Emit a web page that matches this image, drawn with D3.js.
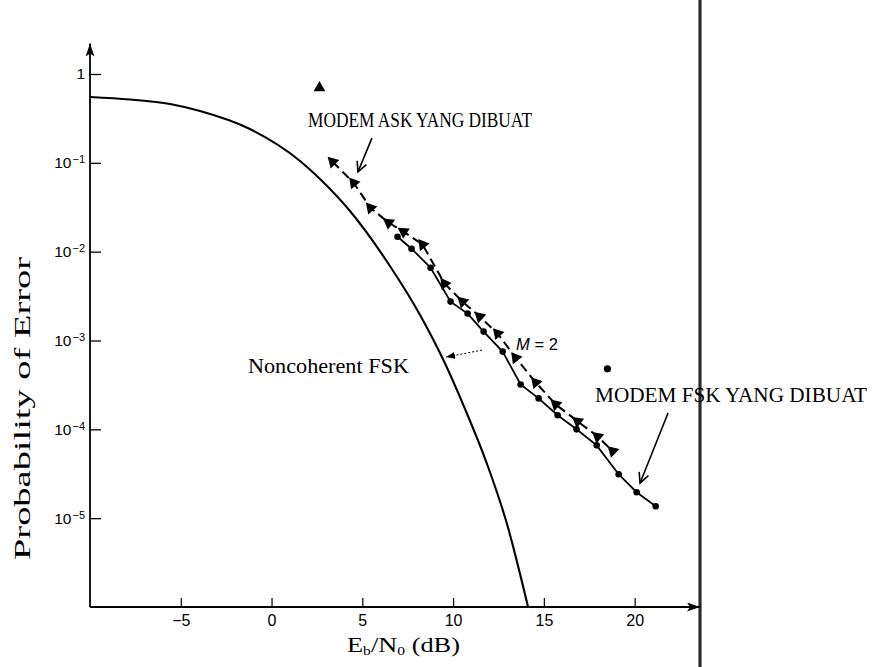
<!DOCTYPE html>
<html>
<head>
<meta charset="utf-8">
<script src="https://cdn.jsdelivr.net/npm/d3@7"></script>
<style>
  html, body { margin: 0; padding: 0; background: #fff; }
  svg { display: block; }
</style>
</head>
<body>
<svg id="chart" width="874" height="667"></svg>
<script>
// Theoretical noncoherent FSK (M = 2) bit error curve
const theoryEbN0 = [-10, -7.8, -5.59, -3.94, -1.19, 1.57, 2.67, 4.32, 6.52, 8.18, 9.44, 10.66, 11.87, 12.97, 14.13];
const theoryPe   = [0.551, 0.516, 0.459, 0.383, 0.240, 0.105, 0.0658, 0.0287, 6.9e-3, 1.94e-3, 6.19e-4, 1.69e-4, 4.07e-5, 8.59e-6, 1.0e-6];

// Measured ASK modem
const askEbN0 = [3.36, 4.52, 5.45, 6.45, 7.27, 8.32, 9.53, 10.52, 11.46, 12.45, 13.44, 14.55, 15.65, 16.86, 17.96, 18.79];
const askPe   = [0.103, 0.0596, 0.0312, 0.0212, 0.0168, 0.0120, 4.37e-3, 2.74e-3, 1.86e-3, 1.20e-3, 6.4e-4, 3.37e-4, 1.91e-4, 1.23e-4, 8.3e-5, 5.7e-5];

// Measured FSK modem
const fskEbN0 = [6.94, 7.71, 8.76, 9.86, 10.80, 11.68, 12.73, 13.72, 14.71, 15.76, 16.80, 17.91, 19.12, 20.11, 21.16];
const fskPe   = [0.0147, 0.0108, 6.6e-3, 2.74e-3, 2.01e-3, 1.26e-3, 7.5e-4, 3.2e-4, 2.23e-4, 1.44e-4, 1.0e-4, 6.6e-5, 3.12e-5, 1.96e-5, 1.36e-5];

// Axis ticks
const xTickValues = [-5, 0, 5, 10, 15, 20];
const yTickValues = [1, 1e-1, 1e-2, 1e-3, 1e-4, 1e-5];
const yTickExponents = [null, -1, -2, -3, -4, -5];

// Axis extents (arrows run slightly past the last tick)
const xDomain = [-10, 23.6];
const yDomain = [1e-6, 1];
const yArrowTop = 2.2;

const svg = d3.select("#chart");
const x = d3.scaleLinear().domain(xDomain).range([90, 700]);
const y = d3.scaleLog().domain(yDomain).range([607, 74]);

const serif = "'Liberation Serif', 'Times New Roman', Times, serif";
const sans = "'Liberation Sans', Arial, Helvetica, sans-serif";

// Arrowheads
const defs = svg.append("defs");
defs.append("marker")
  .attr("id", "axisArrow")
  .attr("markerUnits", "userSpaceOnUse")
  .attr("markerWidth", 14).attr("markerHeight", 10)
  .attr("refX", 13).attr("refY", 4.5)
  .attr("orient", "auto")
  .append("path").attr("d", "M0,0L13,4.5L0,9L3,4.5Z").attr("fill", "#000");
defs.append("marker")
  .attr("id", "openArrow")
  .attr("markerUnits", "userSpaceOnUse")
  .attr("markerWidth", 14).attr("markerHeight", 12)
  .attr("refX", 11).attr("refY", 6)
  .attr("orient", "auto")
  .append("path").attr("d", "M1,1L11,6L1,11").attr("fill", "none").attr("stroke", "#000").attr("stroke-width", 1.6);
defs.append("marker")
  .attr("id", "smallArrow")
  .attr("markerUnits", "userSpaceOnUse")
  .attr("markerWidth", 10).attr("markerHeight", 8)
  .attr("refX", 9).attr("refY", 3.5)
  .attr("orient", "auto")
  .append("path").attr("d", "M0,0L9,3.5L0,7Z").attr("fill", "#000");

// Page frame line on the right
svg.append("line")
  .attr("x1", x(xDomain[1])).attr("x2", x(xDomain[1]))
  .attr("y1", 0).attr("y2", 667)
  .attr("stroke", "#2a2a2a").attr("stroke-width", 3.2);

// Y axis
const gY = svg.append("g").attr("transform", `translate(${x(xDomain[0])},0)`);
gY.call(d3.axisLeft(y).tickValues(yTickValues).tickSizeInner(-11).tickSizeOuter(0).tickPadding(5).tickFormat(() => ""));
gY.select(".domain").remove();
gY.selectAll(".tick line").attr("stroke", "#000").attr("stroke-width", 1.3);
gY.selectAll(".tick text")
  .attr("font-family", sans).attr("font-size", 15.5).attr("fill", "#000")
  .each(function(d, i) {
    const t = d3.select(this);
    const e = yTickExponents[i];
    if (e === null) { t.text("1"); return; }
    t.text("10");
    t.append("tspan").attr("dx", 1).attr("dy", "-0.45em").attr("font-size", 11).text("\u2212" + Math.abs(e));
  });

// X axis
const gX = svg.append("g").attr("transform", `translate(0,${y(yDomain[0])})`);
gX.call(d3.axisBottom(x).tickValues(xTickValues).tickSizeInner(-9).tickSizeOuter(0).tickPadding(8));
gX.select(".domain").remove();
gX.selectAll(".tick line").attr("stroke", "#000").attr("stroke-width", 1.2);
gX.selectAll(".tick text").attr("font-family", sans).attr("font-size", 16).attr("fill", "#000");

// Axis lines with arrows
svg.append("line")
  .attr("x1", x(xDomain[0])).attr("y1", y(yDomain[0]))
  .attr("x2", x(xDomain[0])).attr("y2", y(yArrowTop))
  .attr("stroke", "#000").attr("stroke-width", 1.8)
  .attr("marker-end", "url(#axisArrow)");
svg.append("line")
  .attr("x1", x(xDomain[0])).attr("y1", y(yDomain[0]))
  .attr("x2", x(xDomain[1])).attr("y2", y(yDomain[0]))
  .attr("stroke", "#000").attr("stroke-width", 1.8)
  .attr("marker-end", "url(#axisArrow)");

// Axis titles
svg.append("text")
  .attr("transform", `translate(30,${(y(1e-6) + y(1)) / 2 + 68}) rotate(-90)`)
  .attr("text-anchor", "middle")
  .attr("font-family", serif).attr("font-size", 23)
  .attr("textLength", 303).attr("lengthAdjust", "spacingAndGlyphs")
  .text("Probability of Error");

const xTitle = svg.append("text")
  .attr("x", 347).attr("y", 652)
  .attr("font-family", serif).attr("font-size", 22)
  .attr("textLength", 113).attr("lengthAdjust", "spacingAndGlyphs");
xTitle.append("tspan").text("E");
xTitle.append("tspan").attr("font-size", 13).attr("dy", 3).text("b");
xTitle.append("tspan").attr("dy", -3).text("/N");
xTitle.append("tspan").attr("font-size", 13).attr("dy", 3).text("0");
xTitle.append("tspan").attr("dy", -3).text(" (dB)");

// Series geometry
const theory = theoryEbN0.map((v, i) => [v, theoryPe[i]]);
const ask = askEbN0.map((v, i) => [v, askPe[i]]);
const fsk = fskEbN0.map((v, i) => [v, fskPe[i]]);

const smooth = d3.line().x(d => x(d[0])).y(d => y(d[1])).curve(d3.curveMonotoneX);
const straight = d3.line().x(d => x(d[0])).y(d => y(d[1]));

svg.append("path")
  .datum(theory)
  .attr("d", smooth)
  .attr("fill", "none").attr("stroke", "#000").attr("stroke-width", 2.1);

svg.append("path")
  .datum(ask)
  .attr("d", straight)
  .attr("fill", "none").attr("stroke", "#000").attr("stroke-width", 2)
  .attr("stroke-dasharray", "9,5");

svg.append("path")
  .datum(fsk)
  .attr("d", straight)
  .attr("fill", "none").attr("stroke", "#000").attr("stroke-width", 1.8);

// ASK markers: triangles turned along the curve
const tri = d3.symbol().type(d3.symbolTriangle).size(64);
svg.append("g").selectAll("path")
  .data(ask)
  .join("path")
  .attr("d", tri)
  .attr("fill", "#000")
  .attr("transform", (d, i) => {
    const a = ask[Math.max(0, i - 1)], b = ask[Math.min(ask.length - 1, i + 1)];
    const ang = Math.atan2(y(b[1]) - y(a[1]), x(b[0]) - x(a[0])) * 180 / Math.PI;
    return `translate(${x(d[0])},${y(d[1])}) rotate(${ang - 90})`;
  });

// FSK markers
svg.append("g").selectAll("circle")
  .data(fsk)
  .join("circle")
  .attr("cx", d => x(d[0])).attr("cy", d => y(d[1]))
  .attr("r", 3.3).attr("fill", "#000");

// Legend symbols
const askKey = [2.64, 0.70];
const fskKey = [18.5, 4.8e-4];
svg.append("path")
  .attr("d", d3.symbol().type(d3.symbolTriangle).size(60)())
  .attr("transform", `translate(${x(askKey[0])},${y(askKey[1])})`)
  .attr("fill", "#000");
svg.append("circle")
  .attr("cx", x(fskKey[0])).attr("cy", y(fskKey[1]))
  .attr("r", 3.6).attr("fill", "#000");

// Annotations (positions in data units)
const labels = [
  { text: "MODEM ASK YANG DIBUAT", at: [2.01, 0.253], size: 20, len: 224, font: serif },
  { text: "MODEM FSK YANG DIBUAT", at: [17.82, 2.03e-4], size: 21, len: 272, font: serif },
  { text: "Noncoherent FSK", at: [-1.30, 4.3e-4], size: 22, len: 161, font: serif }
];
svg.append("g").selectAll("text")
  .data(labels)
  .join("text")
  .attr("x", d => x(d.at[0])).attr("y", d => y(d.at[1]))
  .attr("font-family", d => d.font).attr("font-size", d => d.size)
  .attr("textLength", d => d.len).attr("lengthAdjust", "spacingAndGlyphs")
  .text(d => d.text);

const mLabel = svg.append("text")
  .attr("x", x(13.47)).attr("y", y(7.8e-4))
  .attr("font-family", sans).attr("font-size", 16.5);
mLabel.append("tspan").attr("font-style", "italic").text("M");
mLabel.append("tspan").text(" = 2");

const arrows = [
  { from: [5.53, 0.19], to: [4.76, 0.079], marker: "openArrow", dash: null, w: 1.6 },
  { from: [21.84, 1.53e-4], to: [20.30, 2.49e-5], marker: "openArrow", dash: null, w: 1.6 },
  { from: [11.59, 7.8e-4], to: [9.61, 6.5e-4], marker: "smallArrow", dash: "2,2", w: 1 }
];
svg.append("g").selectAll("line")
  .data(arrows)
  .join("line")
  .attr("x1", d => x(d.from[0])).attr("y1", d => y(d.from[1]))
  .attr("x2", d => x(d.to[0])).attr("y2", d => y(d.to[1]))
  .attr("stroke", "#000").attr("stroke-width", d => d.w)
  .attr("stroke-dasharray", d => d.dash)
  .attr("marker-end", d => `url(#${d.marker})`);
</script>
</body>
</html>
